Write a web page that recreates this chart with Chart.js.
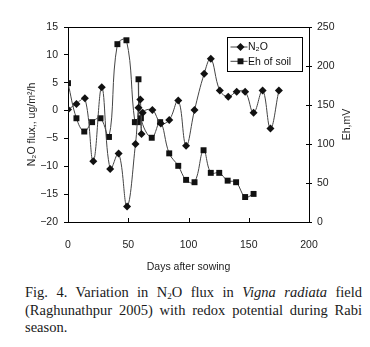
<!DOCTYPE html>
<html>
<head>
<meta charset="utf-8">
<script src="https://cdn.jsdelivr.net/npm/chart.js@4.4.0/dist/chart.umd.min.js"></script>
<style>
  body { margin: 0; background: #fff; }
  #wrap { position: relative; width: 370px; height: 347px; }
  #grafico { position: absolute; left: 0; top: 0; }
  .cap { position: absolute; left: 25px; top: 284px; width: 337px;
         font-family: "Liberation Serif", "Times New Roman", serif; font-size: 14.5px;
         line-height: 17.5px; color: #1a1a1a; }
  .cap div { text-align: justify; text-align-last: justify; }
  .cap div.ult { text-align-last: left; }
  .cap sub { font-size: 9px; vertical-align: -2px; line-height: 0; }
</style>
</head>
<body>
<div id="wrap">
  <canvas id="grafico" width="370" height="280"></canvas>
  <div class="cap">
    <div>Fig. 4. Variation in N<sub>2</sub>O flux in <i>Vigna radiata</i> field</div>
    <div>(Raghunathpur 2005) with redox potential during Rabi</div>
    <div class="ult">season.</div>
  </div>
</div>
<script>
// dados
const diasN2O = [0, 7, 14, 21, 28, 35, 42, 49, 56, 58.5, 60, 61, 62, 70, 77, 84, 91.5, 98, 105, 113, 118.5, 126, 133, 140, 147, 154, 161.5, 168, 175];
const fluxoN2O = [0.2, 1.2, 2.2, -9.1, 4.2, -10.5, -7.7, -17.2, -6.0, 0.5, 2.0, -4.2, -0.4, 0.1, -2.3, -1.7, 1.8, -6.3, 0.1, 6.6, 9.3, 3.6, 2.5, 3.4, 3.4, -0.4, 3.6, -3.2, 3.6];
const diasEh = [0, 7, 13.5, 20, 27, 34, 41, 48.5, 55.5, 58, 58.5, 60.5, 69.5, 76.5, 84, 91.5, 98, 105, 112.5, 118.5, 125.5, 132.5, 139.5, 147, 154];
const ehSolo = [178, 133, 116, 128, 133, 109, 228, 233, 128, 128, 183, 133, 108, 128, 88, 72, 54, 51, 92, 63, 63, 53, 51, 32, 36];
const rotulos = ["N\u2082O", "Eh of soil"];

Chart.defaults.font.family = '"Liberation Sans", Arial, sans-serif';
Chart.defaults.font.size = 10.5;
Chart.defaults.color = "#222";

function pontos(xs, ys) {
  return xs.map((x, i) => ({ x: x, y: ys[i] }));
}

// moldura, tracos internos, legenda e titulo do eixo direito
const moldura = {
  id: "moldura",
  afterDraw(chart) {
    const ctx = chart.ctx;
    const a = chart.chartArea;
    const sx = chart.scales.x;
    const sy2 = chart.scales.y1;
    ctx.save();
    ctx.strokeStyle = "#000";
    ctx.lineWidth = 1;
    ctx.beginPath();
    ctx.moveTo(a.left, a.top + 0.5);
    ctx.lineTo(a.right, a.top + 0.5);
    sx.ticks.forEach(t => {
      const px = Math.round(sx.getPixelForValue(t.value)) + 0.5;
      ctx.moveTo(px, a.bottom);
      ctx.lineTo(px, a.bottom - 4);
    });
    sy2.ticks.forEach(t => {
      const py = Math.round(sy2.getPixelForValue(t.value)) + 0.5;
      ctx.moveTo(a.right, py);
      ctx.lineTo(a.right - 3, py);
    });
    ctx.stroke();

    // legenda
    const bx = a.left + 159.5, by = a.top + 10.5;
    ctx.strokeRect(bx, by, 75, 34);
    chart.data.datasets.forEach((ds, i) => {
      const ly = by + 9.5 + i * 14.3;
      ctx.strokeStyle = ds.borderColor;
      ctx.beginPath();
      ctx.moveTo(bx + 3, ly);
      ctx.lineTo(bx + 20, ly);
      ctx.stroke();
      ctx.fillStyle = ds.pointBackgroundColor;
      ctx.strokeStyle = ds.pointBorderColor;
      Chart.helpers.drawPoint(ctx, { pointStyle: ds.pointStyle, radius: ds.pointRadius, rotation: 0, borderWidth: 0 }, bx + 13, ly);
      ctx.fillStyle = "#111";
      ctx.font = '10.5px "Liberation Sans", Arial, sans-serif';
      ctx.textAlign = "left";
      ctx.textBaseline = "middle";
      ctx.fillText(ds.label, bx + 20.5, ly + 0.5);
    });

    // titulo eixo direito
    ctx.translate(chart.width - 23, (a.top + a.bottom) / 2);
    ctx.rotate(-Math.PI / 2);
    ctx.textAlign = "center";
    ctx.textBaseline = "middle";
    ctx.fillStyle = "#222";
    ctx.fillText("Eh,mV", 0, 0);
    ctx.restore();
  }
};

new Chart(document.getElementById("grafico"), {
  type: "line",
  data: {
    datasets: [
      {
        label: rotulos[0],
        data: pontos(diasN2O, fluxoN2O),
        yAxisID: "y",
        borderColor: "#444",
        borderWidth: 1,
        tension: 0.4,
        pointStyle: "rectRot",
        pointRadius: 4,
        pointBackgroundColor: "#111",
        pointBorderColor: "#111",
        pointBorderWidth: 0,
      },
      {
        label: rotulos[1],
        data: pontos(diasEh, ehSolo),
        yAxisID: "y1",
        borderColor: "#444",
        borderWidth: 1,
        tension: 0.4,
        pointStyle: "rect",
        pointRadius: 4.2,
        pointBackgroundColor: "#111",
        pointBorderColor: "#111",
        pointBorderWidth: 0,
      },
    ],
  },
  options: {
    responsive: false,
    animation: false,
    layout: { padding: { top: 27, left: 0, right: 0, bottom: 0 } },
    plugins: { legend: { display: false }, tooltip: { enabled: false } },
    scales: {
      x: {
        type: "linear",
        min: 0,
        max: 200,
        ticks: { stepSize: 50, padding: 17, maxRotation: 0 },
        grid: { drawOnChartArea: false, drawTicks: false },
        border: { color: "#000" },
        title: { display: true, text: "Days after sowing", padding: { top: 0, bottom: 7 } },
        afterFit(s) { s.height = 58; },
      },
      y: {
        position: "left",
        min: -20,
        max: 15,
        ticks: { stepSize: 5, padding: 6, callback: v => String(v).replace("-", "\u2212") },
        grid: { drawOnChartArea: false, tickLength: 4, color: "#000" },
        border: { color: "#000" },
        title: { display: true, text: "N\u2082O flux,, ug/m\u00b2/h", padding: { top: 26, bottom: 0 } },
        afterFit(s) { s.width = 68; },
      },
      y1: {
        position: "right",
        min: 0,
        max: 250,
        ticks: { stepSize: 50, padding: 5 },
        grid: { drawOnChartArea: false, tickLength: 3, color: "#000" },
        border: { color: "#000" },
        afterFit(s) { s.width = 61; },
      },
    },
  },
  plugins: [moldura],
});
</script>
</body>
</html>
